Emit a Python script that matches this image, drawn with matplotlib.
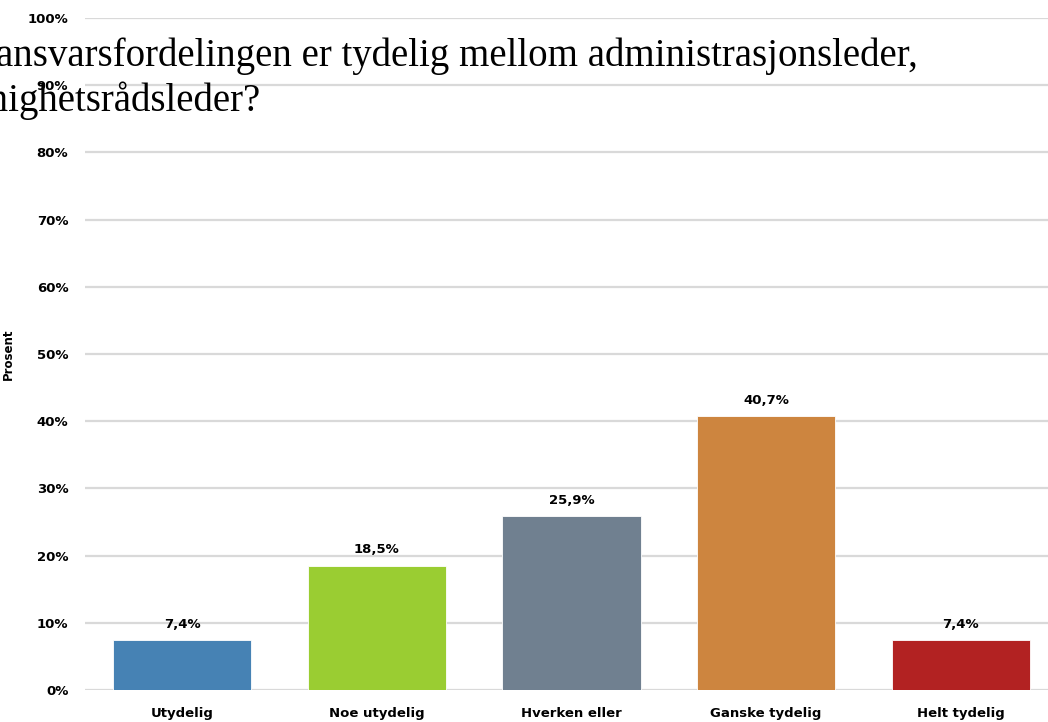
import matplotlib.pyplot as plt
from matplotlib.ticker import FuncFormatter

categories = ['Utydelig', 'Noe utydelig', 'Hverken eller', 'Ganske tydelig', 'Helt tydelig']
values = [7.4, 18.5, 25.9, 40.7, 7.4]
colors = ['#4682b4', '#9acd32', '#708090', '#cd853f', '#b22222']
yticks = [0, 10, 20, 30, 40, 50, 60, 70, 80, 90, 100]

label_font = ['Liberation Sans Narrow', 'DejaVu Sans']

fig = plt.figure(figsize=(10.48, 7.22), dpi=100)
# the chart was cropped: axes run past the right and bottom edges
ax = fig.add_axes([85 / 1048, 32 / 722, 973 / 1048, 672 / 722])

x = range(len(categories))
bars = ax.bar(x, values, width=0.71, color=colors, zorder=2,
              edgecolor='white', linewidth=0.6)
ax.set_xlim(-0.5, len(categories) - 0.5)
ax.set_ylim(0, 100)
ax.set_yticks(yticks)
ax.yaxis.set_major_formatter(FuncFormatter(lambda v, p: f'{v:.0f}%'))
ax.grid(axis='y', color='#d9d9d9', linewidth=1.6, zorder=0)
ax.set_axisbelow(True)
for s in ax.spines.values():
    s.set_visible(False)
ax.tick_params(length=0)
ax.tick_params(axis='y', pad=12)
ax.tick_params(axis='x', pad=12)
ax.set_xticks(list(x))
ax.set_xticklabels(categories)
for lab in ax.get_xticklabels() + ax.get_yticklabels():
    lab.set_family(label_font)
    lab.set_fontweight('bold')
    lab.set_fontsize(9.5)

for b, v in zip(bars, values):
    ax.text(b.get_x() + b.get_width() / 2, v + 1.4, f'{v:.1f}%'.replace('.', ','),
            ha='center', va='bottom', fontsize=9.5, fontweight='bold', family=label_font)

ax.set_ylabel('Prosent', fontsize=8.5, fontweight='bold', family=label_font)
ax.yaxis.set_label_coords(-0.072, 0.5)

fig.text(-0.004, 0.922, 'ansvarsfordelingen er tydelig mellom administrasjonsleder,',
         ha='left', va='center', fontsize=28, family='Liberation Serif')
fig.text(-0.056, 0.860, 'menighetsrådsleder?',
         ha='left', va='center', fontsize=28, family='Liberation Serif')

fig.savefig('out.png', dpi=100)
